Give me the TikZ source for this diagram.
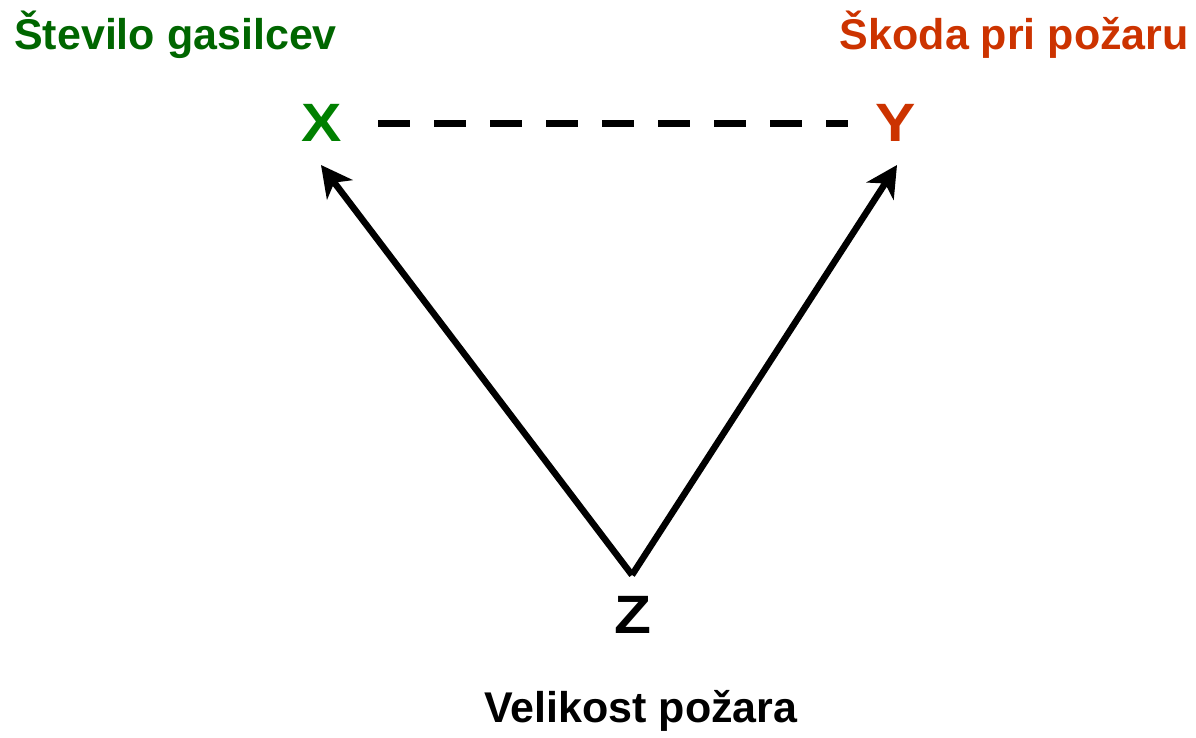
\documentclass[tikz,border=0pt]{standalone}
\usepackage{fontspec}
\setmainfont{Liberation Sans}
\usetikzlibrary{arrows.meta}
\definecolor{lblgreen}{HTML}{006600}
\definecolor{vargreen}{HTML}{008000}
\definecolor{varred}{HTML}{CC3300}
\begin{document}
\begin{tikzpicture}[x=1pt,y=-1pt,
  lbl/.style={font=\fontsize{43}{48}\selectfont\bfseries, inner sep=0pt},
  var/.style={font=\fontsize{54}{60}\selectfont\bfseries, inner sep=0pt, xscale=1.12},
  arr/.style={line width=6.5pt, -{Stealth[length=31pt, width=32pt, inset=9pt]}},
  dashline/.style={line width=7pt, dash pattern=on 32pt off 24pt}]
\useasboundingbox (0,0) rectangle (1196,737);
\node[lbl, text=lblgreen, anchor=base west] (lx) at (14,49) {Število gasilcev};
\node[lbl, text=varred, anchor=base east] (ly) at (1189,49) {Škoda pri požaru};
\node[lbl, anchor=base] (lz) at (641,722) {Velikost požara};
\node[var, text=vargreen] (x) at (322,123) {X};
\node[var, text=varred] (y) at (896,123) {Y};
\node[var] (z) at (633,615) {Z};
\coordinate (xd) at (378,123);
\coordinate (yd) at (848,123);
\coordinate (zt) at (632,575);
\coordinate (xt) at (321,165);
\coordinate (yt) at (897,165);
\draw[dashline] (xd) -- (yd);
\draw[arr] (zt) -- (xt);
\draw[arr] (zt) -- (yt);
\end{tikzpicture}
\end{document}
